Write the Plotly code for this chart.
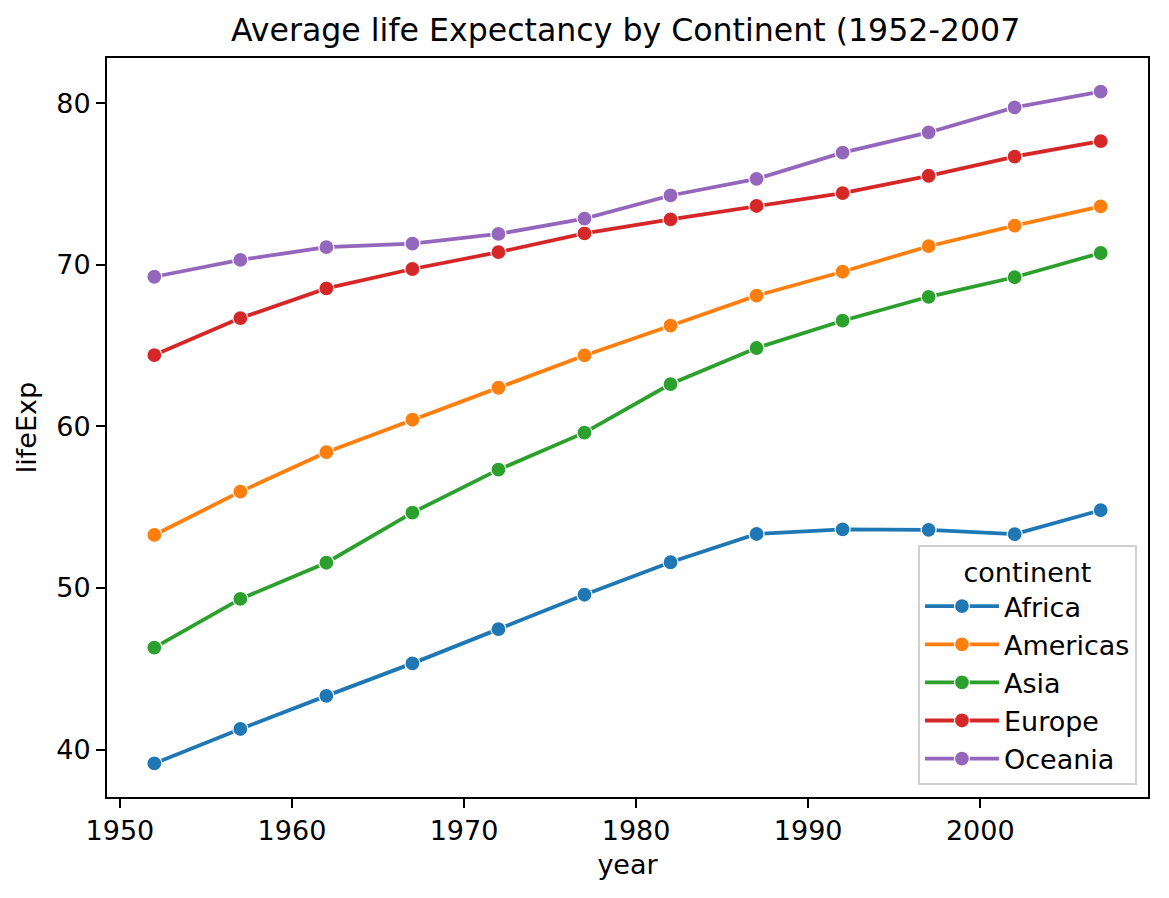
import plotly.graph_objects as go

# gapminder averages per continent
years = [1952, 1957, 1962, 1967, 1972, 1977, 1982, 1987, 1992, 1997, 2002, 2007]
africa = [39.14, 41.27, 43.32, 45.33, 47.45, 49.58, 51.59, 53.34, 53.63, 53.60, 53.33, 54.81]
americas = [53.28, 55.96, 58.40, 60.41, 62.39, 64.39, 66.23, 68.09, 69.57, 71.15, 72.42, 73.61]
asia = [46.31, 49.32, 51.56, 54.66, 57.32, 59.61, 62.62, 64.85, 66.54, 68.02, 69.23, 70.73]
europe = [64.41, 66.70, 68.54, 69.74, 70.78, 71.94, 72.81, 73.64, 74.44, 75.51, 76.70, 77.65]
oceania = [69.26, 70.30, 71.09, 71.31, 71.91, 72.86, 74.29, 75.32, 76.94, 78.19, 79.74, 80.72]

continents = ["Africa", "Americas", "Asia", "Europe", "Oceania"]
values = [africa, americas, asia, europe, oceania]
colors = ["#1f77b4", "#ff7f0e", "#2ca02c", "#d62728", "#9467bd"]

fig = go.Figure()
for name, vals, col in zip(continents, values, colors):
    fig.add_trace(go.Scatter(
        x=years, y=vals, name=name, mode="lines+markers",
        line=dict(color=col, width=3.8),
        marker=dict(color=col, size=15, line=dict(color="white", width=1.2)),
    ))

# matplotlib-like 5% margins around the data
ymin = min(min(v) for v in values)
ymax = max(max(v) for v in values)
ypad = (ymax - ymin) * 0.05
xpad = (years[-1] - years[0]) * 0.05

font = "DejaVu Sans"
# page body has an 8px margin, so the figure is a bit smaller than the window
fig.update_layout(
    width=1161, height=890,
    margin=dict(l=99, r=21, t=50, b=101),
    paper_bgcolor="white", plot_bgcolor="white",
    font=dict(family=font, size=27, color="black"),
    title=dict(text="Average life Expectancy by Continent (1952-2007",
               x=0.532, xanchor="center", y=0.9753, yanchor="middle",
               font=dict(size=31.6)),
    legend=dict(
        title=dict(text="continent", side="top center", font=dict(size=27)),
        x=0.9894, y=0.0162, xanchor="right", yanchor="bottom",
        bgcolor="rgba(255,255,255,0.8)", bordercolor="#d0d0d0", borderwidth=2,
        font=dict(size=27), itemwidth=74, tracegroupgap=0,
    ),
)
fig.update_xaxes(
    range=[years[0] - xpad, years[-1] + xpad],
    tickvals=[1950, 1960, 1970, 1980, 1990, 2000],
    showgrid=False, zeroline=False,
    showline=True, linecolor="black", linewidth=2, mirror=True,
    ticks="outside", ticklen=9, tickwidth=2, tickcolor="black",
    tickfont=dict(size=27),
    title=dict(text="year", standoff=10, font=dict(size=27)),
)
fig.update_yaxes(
    range=[ymin - ypad, ymax + ypad],
    tickvals=[40, 50, 60, 70, 80],
    showgrid=False, zeroline=False,
    showline=True, linecolor="black", linewidth=2, mirror=True,
    ticks="outside", ticklen=9, tickwidth=2, tickcolor="black",
    tickfont=dict(size=27),
    title=dict(text="lifeExp", standoff=12, font=dict(size=27)),
)

fig.write_html("out.html")
